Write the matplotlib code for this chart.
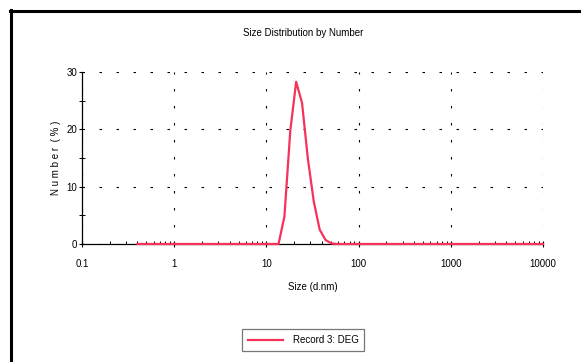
import matplotlib
matplotlib.use("Agg")
import matplotlib.pyplot as plt
from matplotlib.lines import Line2D
from matplotlib.ticker import LogLocator, FixedLocator, NullFormatter

plt.rcParams['font.family'] = ['Liberation Sans Narrow', 'Liberation Sans', 'DejaVu Sans']

# size classes (d.nm) and number distribution (%)
sizes = [0.4, 0.4632, 0.5365, 0.6213, 0.7195, 0.8332, 0.9649, 1.117, 1.294, 1.499,
         1.736, 2.010, 2.328, 2.696, 3.122, 3.615, 4.187, 4.849, 5.615, 6.503,
         7.531, 8.721, 10.10, 11.70, 13.54, 15.69, 18.17, 21.04, 24.36, 28.21,
         32.67, 37.84, 43.82, 50.75, 58.77, 68.06, 78.82, 91.28, 105.7, 122.4,
         141.8, 164.2, 190.1, 220.2, 255.0, 295.3, 342.0, 396.1, 458.7, 531.2,
         615.1, 712.4, 825.0, 955.4, 1106, 1281, 1484, 1718, 1990, 2305,
         2669, 3091, 3580, 4145, 4801, 5560, 6439, 7456, 8635, 10000]
number = [0.0] * 24 + [0.0, 4.8, 19.8, 28.3, 24.6, 14.8, 7.4, 2.5, 0.7, 0.1] + [0.0] * 36

title = "Size Distribution by Number"
xlabel = "Size (d.nm)"
ylabel = "N u m b e r  ( % )"
legend_label = "Record 3: DEG"
xticks = [0.1, 1, 10, 100, 1000, 10000]
xticklabels = ["0.1", "1", "10", "100", "1000", "10000"]
yticks = [0, 10, 20, 30]

red = '#f5325a'

fig = plt.figure(figsize=(5.81, 3.62), dpi=100)
ax = fig.add_axes([0.1411, 0.326, 0.7935, 0.475])

ax.plot(sizes, number, color=red, lw=1.6, label=legend_label, zorder=5, clip_on=False)

ax.set_xscale('log')
ax.set_xlim(0.1, 10000)
ax.set_ylim(0, 30)
ax.set_xticks(xticks)
ax.set_xticklabels(xticklabels)
ax.xaxis.set_minor_locator(LogLocator(base=10, subs=range(2, 10)))
ax.xaxis.set_minor_formatter(NullFormatter())
ax.set_yticks(yticks)
ax.yaxis.set_minor_locator(FixedLocator([5, 15, 25]))

for s in ['top', 'right']:
    ax.spines[s].set_visible(False)
for s in ['left', 'bottom']:
    ax.spines[s].set_linewidth(0.9)

ax.tick_params(axis='both', which='major', labelsize=7, width=0.8)
ax.tick_params(axis='x', which='major', direction='inout', length=5, pad=8)
ax.tick_params(axis='x', which='minor', direction='in', length=2.5, width=0.7)
ax.tick_params(axis='y', which='major', direction='out', length=2.5, pad=1)
ax.tick_params(axis='y', which='minor', direction='inout', length=4, width=0.7)

# dotted grid at the decades and every 10 %
ax.grid(True, which='major', color='black', lw=0.8, linestyle=(0, (2.25, 13.05)))

ax.set_title(title, fontsize=7, pad=26, x=0.48)
ax.set_xlabel(xlabel, fontsize=7, labelpad=10)
ax.set_ylabel(ylabel, fontsize=7, labelpad=4)

leg = ax.legend(loc='upper center', bbox_to_anchor=(0.48, -0.495), fontsize=7, frameon=True,
                fancybox=False, edgecolor='#555555', handlelength=3.6, handletextpad=1.0,
                borderpad=0.6, borderaxespad=0)
leg.get_frame().set_linewidth(0.9)

# outer frame (top and left edges)
fig.add_artist(Line2D([10 / 581, 1], [1 - 11 / 362, 1 - 11 / 362], color='black', lw=2.2,
                      transform=fig.transFigure))
fig.add_artist(Line2D([11 / 581, 11 / 581], [0, 1 - 10 / 362], color='black', lw=2.2,
                      transform=fig.transFigure))

fig.savefig("out.png", dpi=100)
